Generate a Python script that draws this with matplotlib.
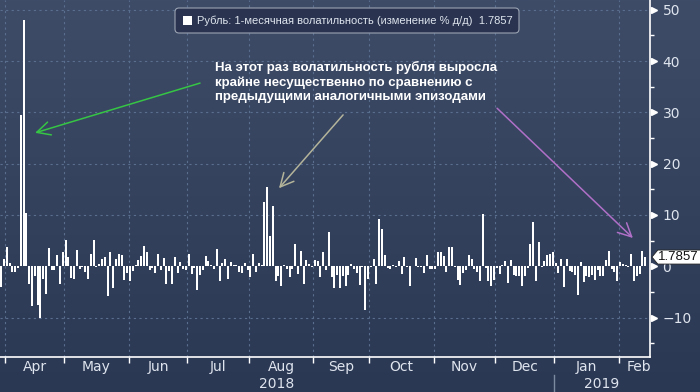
import numpy as np
import pandas as pd
import matplotlib
matplotlib.use('Agg')
import matplotlib.pyplot as plt
import matplotlib.transforms as mtransforms
from matplotlib.patches import FancyBboxPatch, Rectangle, Polygon
from matplotlib.colors import LinearSegmentedColormap

# Daily change of the ruble 1-month volatility, % d/d (business days)
start_date = '2018-03-29'
vol_change = [
    -4.0, 1.4, 3.8, 0.7, -1.2, -1.1, -0.3, 29.5, 48.0, 10.3,
    -3.4, -7.8, -2.0, -7.6, -10.0, -2.5, -5.4, 3.6, -0.7, -0.7,
    2.1, -3.4, 2.7, 5.1, 1.8, -2.3, -2.4, 3.1, -0.6, -0.1,
    -1.2, -2.4, 2.3, 5.1, -0.1, 0.4, 1.5, 1.8, -5.9, 2.8,
    -4.2, 1.4, 2.3, 2.1, -2.7, -1.4, -2.9, -0.9, 0.3, 1.2,
    1.9, 3.9, 2.8, -0.8, -0.4, -1.4, 2.3, -0.8, 1.6, -3.5,
    -1.0, -3.5, 1.7, -1.3, 0.8, -0.6, -0.7, 2.3, -1.6, -0.3,
    -4.7, -1.7, -0.7, 1.9, 1.1, 0.2, -0.6, 3.4, -2.8, 0.6,
    1.4, -2.4, 0.8, 0.2, 0.2, -1.2, -1.4, 0.6, -0.8, -2.2,
    2.4, -1.2, 0.6, 0.3, 12.5, 15.4, 5.9, 11.7, -2.8, -1.9,
    -3.9, 0.2, -0.6, -2.1, -0.5, 4.3, -1.6, 3.0, -3.5, 1.2,
    0.5, -0.1, 1.2, 1.1, -2.1, 2.8, -0.7, 6.7, -2.1, -4.2,
    -1.7, -4.2, -1.9, -3.8, -1.7, 0.5, -0.5, -1.4, -3.6, -0.1,
    -8.6, -2.4, -0.1, 1.4, -3.4, 9.2, 7.2, 2.2, -0.3, -0.5,
    0.3, -0.1, 1.0, -1.6, 1.8, -0.1, -3.8, 0.1, 1.6, -0.1,
    -0.1, -1.3, 2.2, -0.6, -0.6, -0.5, 2.8, 2.8, 2.0, -1.1,
    3.8, 3.8, -0.1, -2.7, -3.6, -1.4, -0.8, 2.2, 1.4, -0.6,
    -1.2, -2.8, 10.2, -0.3, -2.9, -3.9, -2.7, -0.3, -1.6, 0.3,
    1.0, -3.2, 1.2, -1.7, -1.9, -1.9, -3.9, -2.0, -0.3, 4.4,
    8.6, -2.9, 4.7, -0.1, 1.0, 2.2, 2.4, 2.8, 0.6, -1.3,
    1.4, -4.1, 1.4, -0.9, -1.2, -1.8, -5.7, 0.8, -3.0, -2.0,
    -2.1, -1.7, -2.6, -0.8, -2.0, -1.9, 1.2, 3.0, -0.5, -1.1,
    -2.8, 0.9, 0.4, 0.3, -0.2, 2.4, -2.8, -2.0, -1.5, 3.0,
    1.7857,
]
last_value = 1.7857
series_label = 'Рубль: 1-месячная волатильность (изменение % д/д)'
note = ('На этот раз волатильность рубля выросла\n'
        'крайне несущественно по сравнению с\n'
        'предыдущими аналогичными эпизодами')
y_ticks = [-10, 0, 10, 20, 30, 40, 50]
month_names = ['Jan', 'Feb', 'Mar', 'Apr', 'May', 'Jun',
               'Jul', 'Aug', 'Sep', 'Oct', 'Nov', 'Dec']

dates = pd.bdate_range(start_date, periods=len(vol_change))
x = np.arange(len(dates))
xlim = (-0.43, -0.43 + 650 / 2.8)

txt_col = '#dfe5ee'
grid_col = '#5a6e8e'

fig = plt.figure(figsize=(7, 3.92), dpi=100)

# background gradient
bg = fig.add_axes([0, 0, 1, 1], zorder=-10)
cmap = LinearSegmentedColormap.from_list('bb', ['#3e4c68', '#2b3854'])
bg.imshow(np.linspace(0, 1, 256).reshape(-1, 1), aspect='auto', cmap=cmap,
          extent=[0, 1, 0, 1])
bg.axis('off')

ax = fig.add_axes([0, 35 / 392, 650 / 700, 357 / 392])
ax.set_facecolor('none')
ax.bar(x, vol_change, width=0.72, color='white', zorder=3)
ax.set_xlim(*xlim)
ax.set_ylim(-17.7, 51.9)

# month boundaries
months = dates.to_period('M')
bounds = [i - 0.5 for i in range(1, len(dates)) if months[i] != months[i - 1]]
for b in bounds:
    ax.axvline(b, color=grid_col, lw=0.8, ls=(0, (2, 3)), zorder=1)
for t in y_ticks:
    if t != 0:
        ax.axhline(t, color=grid_col, lw=0.8, ls=(0, (2, 3)), zorder=1)

ax.set_xticks(bounds)
ax.set_xticklabels([])
ax.tick_params(axis='x', length=4, width=1, color='white', direction='out')

# month labels centred in each month
edges = [xlim[0]] + bounds + [xlim[1]]
for k in range(len(bounds)):
    i0 = int(bounds[k] + 0.5)
    left, right = edges[k + 1], edges[k + 2]
    xm = (left + right) / 2 if k < len(bounds) - 1 else right - 4
    ax.text(xm, -0.028, month_names[dates[i0].month - 1], transform=ax.get_xaxis_transform(),
            ha='center', va='center', color=txt_col, fontsize=10)

# year labels
jan = [b for b in bounds if dates[int(b + 0.5)].month == 1][0]
ax.text((xlim[0] + jan) / 2, -0.075, '2018', transform=ax.get_xaxis_transform(),
        ha='center', va='center', color=txt_col, fontsize=10)
ax.text((jan + xlim[1]) / 2, -0.075, '2019', transform=ax.get_xaxis_transform(),
        ha='center', va='center', color=txt_col, fontsize=10)
ax.plot([jan, jan], [-0.05, -0.1], transform=ax.get_xaxis_transform(),
        color='#7d8ba0', lw=1, clip_on=False)

# y axis on the right
ax.yaxis.tick_right()
ax.set_yticks(y_ticks)
ax.set_yticklabels([str(t).replace('-', '\u2212') for t in y_ticks])
ax.set_yticks(np.arange(-15, 50, 10), minor=True)
ax.tick_params(axis='y', which='major', length=0, pad=9, labelcolor=txt_col, labelsize=10)
ax.tick_params(axis='y', which='minor', length=3, width=1, color='white', direction='out')
tri = mtransforms.offset_copy(ax.get_yaxis_transform(), fig=fig, x=3.5, units='dots')
ax.plot(np.ones(len(y_ticks)), y_ticks, ls='none', marker='>', ms=5, color='white',
        transform=tri, clip_on=False)

for s in ['top', 'left']:
    ax.spines[s].set_visible(False)
for s in ['right', 'bottom']:
    ax.spines[s].set_color('white')
    ax.spines[s].set_linewidth(1.2)

# last value flag
flag_tr = mtransforms.blended_transform_factory(ax.transAxes, ax.transData)
h = 7 / 5.125
flag = Polygon([(1.003, last_value), (1.012, last_value + h), (1.09, last_value + h),
                (1.09, last_value - h), (1.012, last_value - h)], closed=True,
               facecolor='white', edgecolor='#222222', lw=0.6, transform=flag_tr,
               clip_on=False, zorder=6)
ax.add_patch(flag)
ax.text(1.012, last_value, f'{last_value:.4f}', transform=flag_tr, ha='left', va='center',
        fontsize=9.5, family='Liberation Sans', color='#111111', zorder=7, clip_on=False)

# legend box
inch = fig.dpi_scale_trans
leg = FancyBboxPatch((1.75, 3.59), 3.44, 0.25, boxstyle='round,pad=0,rounding_size=0.04',
                     transform=inch, facecolor='#2a3450', edgecolor='#9aa3b2', lw=0.8)
fig.patches.append(leg)
fig.patches.append(Rectangle((1.83, 3.67), 0.09, 0.09, transform=inch,
                             facecolor='white', edgecolor='none'))
fig.text(1.97, 3.712, f'{series_label}  {last_value:.4f}', transform=inch,
         ha='left', va='center', color=txt_col, fontsize=8, family='Liberation Sans')

# comment and arrows
fig.text(2.15, 3.92 - 0.61, note, transform=inch, ha='left', va='top', color='white',
         fontsize=9.5, fontweight='bold', family='Liberation Sans', linespacing=1.25)

arrows = [((12.1, 26.0), (71.0, 35.7), '#36c544'),
          ((99.2, 15.2), (122.1, 29.5), '#b4b49a'),
          ((225.6, 5.5), (177.1, 30.8), '#b070c8')]
for tip, tail, col in arrows:
    ax.annotate('', xy=tip, xytext=tail, xycoords='data',
                arrowprops=dict(arrowstyle='->,head_length=0.8,head_width=0.4',
                                color=col, lw=1.1, mutation_scale=12,
                                shrinkA=0, shrinkB=0), zorder=5)

fig.savefig('out.png', dpi=100)
